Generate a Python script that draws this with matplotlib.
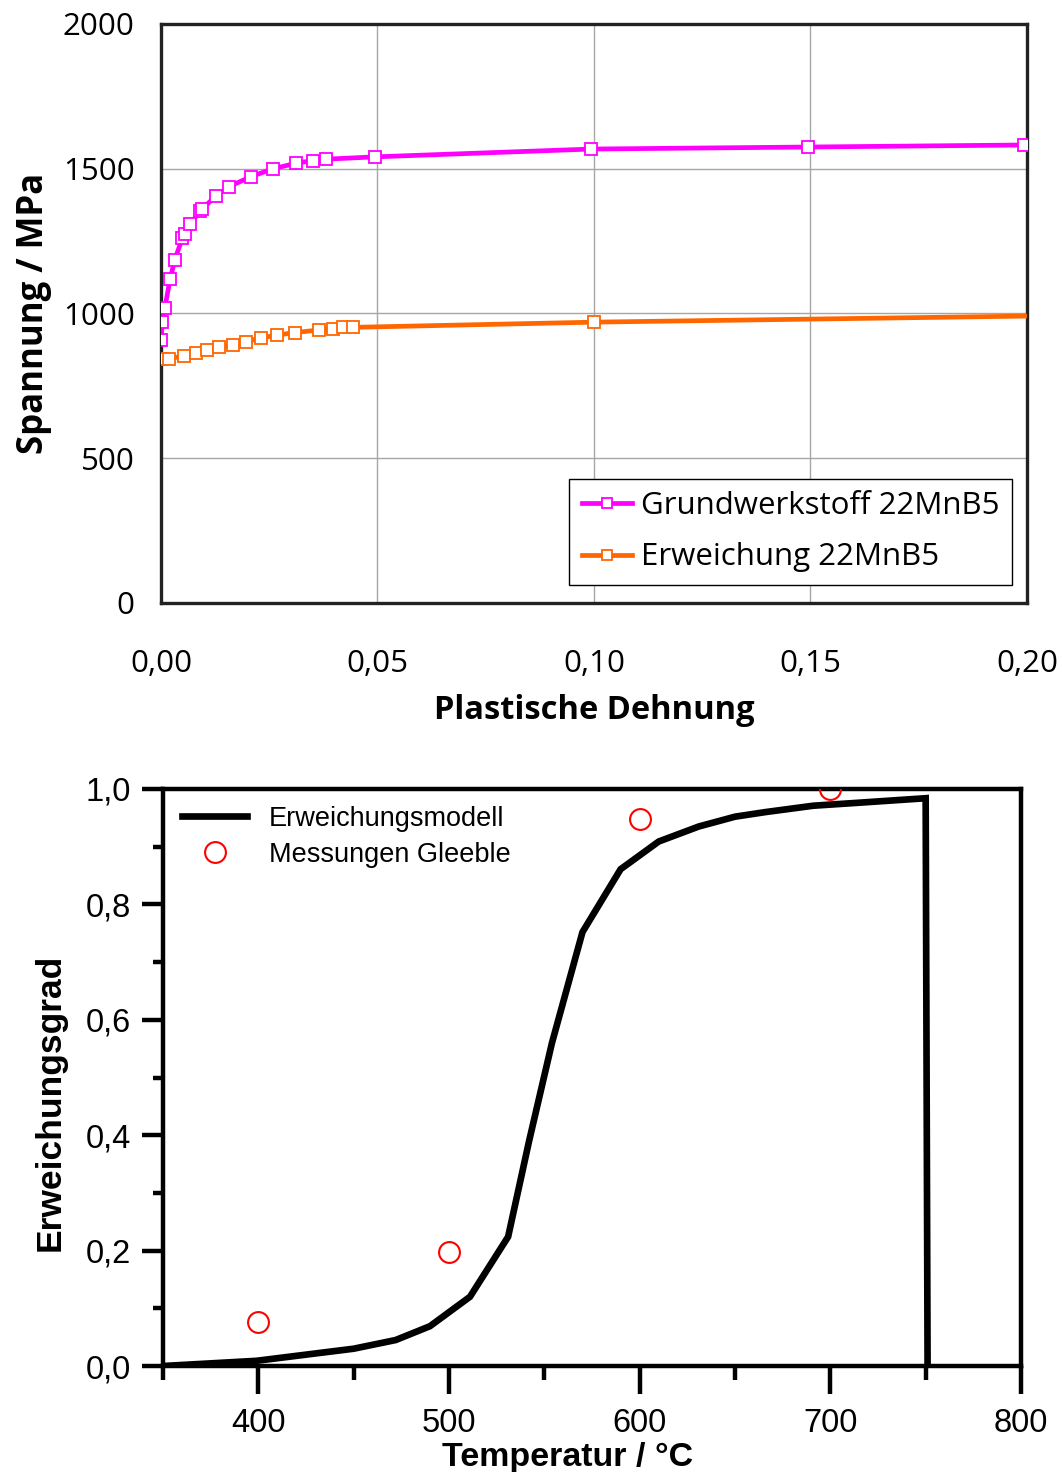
import matplotlib
matplotlib.use("Agg")
import matplotlib.pyplot as plt
from matplotlib.ticker import FuncFormatter, MultipleLocator

# Fliesskurven 22MnB5: plastische Dehnung / Spannung in MPa
dehnung_grund = [0.0, 0.0003, 0.0009, 0.0021, 0.0032, 0.0049, 0.0056, 0.0068, 0.0090,
                 0.0095, 0.0127, 0.0157, 0.0208, 0.0259, 0.0312, 0.0350, 0.0381,
                 0.0494, 0.0993, 0.1495, 0.1993]
spannung_grund = [908, 970, 1020, 1119, 1185, 1260, 1273, 1308, 1355,
                  1361, 1406, 1438, 1473, 1500, 1519, 1528, 1533,
                  1541, 1568, 1575, 1582]

dehnung_erw = [0.0, 0.0019, 0.0053, 0.0080, 0.0107, 0.0134, 0.0167, 0.0197, 0.0230,
               0.0267, 0.0309, 0.0366, 0.0398, 0.0420, 0.0443, 0.1000]
spannung_erw = [844, 844, 853, 863, 875, 884, 892, 903, 915,
                925, 934, 943, 947, 952, 952, 970]
# Verlaengerung der Erweichungskurve ohne Marker
dehnung_erw_ende = [0.1000, 0.2000]
spannung_erw_ende = [970, 991]

# Erweichungsmodell ueber der Temperatur
temp_modell = [350, 399, 450, 472, 490, 511, 531, 542, 554, 570, 590, 610, 631,
               650, 666, 691, 714, 750, 751]
grad_modell = [0.0, 0.009, 0.03, 0.045, 0.069, 0.12, 0.224, 0.39, 0.56, 0.752, 0.861,
               0.909, 0.935, 0.952, 0.96, 0.971, 0.976, 0.984, 0.0]

# Gleeble-Messungen
temp_mess = [400, 500, 600, 700]
grad_mess = [0.076, 0.198, 0.948, 1.0]

fig = plt.figure(figsize=(10.62, 14.72), dpi=100)

############################ Spannung ueber plastischer Dehnung ############################
sans = ["Open Sans", "DejaVu Sans"]
ax1 = fig.add_axes([0.1516, 0.5904, 0.8154, 0.3933])
ax1.plot(dehnung_erw_ende, spannung_erw_ende, color="#ff6600", lw=3.4, zorder=3)
ax1.plot(dehnung_grund, spannung_grund, color="#ff00ff", lw=3.4, marker="s", ms=8.5,
         mfc="white", mec="#ff00ff", mew=1.3, label="Grundwerkstoff 22MnB5", zorder=4)
ax1.plot(dehnung_erw, spannung_erw, color="#ff6600", lw=3.4, marker="s", ms=8.5,
         mfc="white", mec="#ff6600", mew=1.3, label="Erweichung 22MnB5", zorder=4)
ax1.set_xlim(0, 0.2)
ax1.set_ylim(0, 2000)
ax1.xaxis.set_major_locator(MultipleLocator(0.05))
ax1.yaxis.set_major_locator(MultipleLocator(500))
ax1.xaxis.set_major_formatter(FuncFormatter(lambda v, p: f"{v:.2f}".replace(".", ",")))
ax1.grid(True, color="#a6a6a6", lw=1)
ax1.set_axisbelow(True)
for s in ax1.spines.values():
    s.set_linewidth(2.4)
    s.set_color("#222222")
ax1.tick_params(axis="x", length=0, pad=33, labelsize=22.5)
ax1.tick_params(axis="y", length=0, pad=19, labelsize=22.5)
for lab in ax1.get_xticklabels() + ax1.get_yticklabels():
    lab.set_family(sans)
ax1.set_xlabel("Plastische Dehnung", family=sans, fontsize=23.5, fontweight="bold", labelpad=11)
ax1.set_ylabel("Spannung / MPa", family=sans, fontsize=25, fontweight="bold", labelpad=8)
leg1 = ax1.legend(loc="lower right", bbox_to_anchor=(0.9827, 0.031), borderaxespad=0,
                  prop={"family": sans, "size": 22.5}, fancybox=False, framealpha=1,
                  edgecolor="black", handlelength=1.6, handletextpad=0.3,
                  labelspacing=0.68, borderpad=0.4, markerscale=0.85)
leg1.get_frame().set_linewidth(1)

############################ Erweichungsgrad ueber Temperatur ############################
arial = ["Liberation Sans", "DejaVu Sans"]
ax2 = fig.add_axes([0.1535, 0.0720, 0.8079, 0.3920])
ax2.plot(temp_modell, grad_modell, color="black", lw=4.8, solid_joinstyle="miter",
         label="Erweichungsmodell", zorder=3)
ax2.plot(temp_mess, grad_mess, ls="none", marker="o", ms=15, mfc="none", mec="red",
         mew=1.5, label="Messungen Gleeble", zorder=4)
ax2.set_xlim(350, 800)
ax2.set_ylim(0, 1.0)
ax2.xaxis.set_major_locator(MultipleLocator(100))
ax2.xaxis.set_minor_locator(MultipleLocator(50))
ax2.yaxis.set_major_locator(MultipleLocator(0.2))
ax2.yaxis.set_minor_locator(MultipleLocator(0.1))
ax2.yaxis.set_major_formatter(FuncFormatter(lambda v, p: f"{v:.1f}".replace(".", ",")))
for s in ax2.spines.values():
    s.set_linewidth(3.2)
    s.set_color("black")
ax2.tick_params(axis="x", which="major", direction="out", length=20, width=3.2,
                pad=10, labelsize=23.5)
ax2.tick_params(axis="x", which="minor", direction="out", length=10, width=3.2)
ax2.tick_params(axis="y", which="major", direction="out", length=15, width=3.2,
                pad=8, labelsize=23.5)
ax2.tick_params(axis="y", which="minor", direction="out", length=7, width=3.2)
for lab in ax2.get_xticklabels() + ax2.get_yticklabels():
    lab.set_family(arial)
ax2.set_xlabel("Temperatur / °C", family=arial, fontsize=24.5, fontweight="bold")
ax2.set_ylabel("Erweichungsgrad", family=arial, fontsize=25.5, fontweight="bold")
ax2.xaxis.set_label_coords(0.471, -0.132)
ax2.yaxis.set_label_coords(-0.112, 0.4575)
ax2.legend(loc="upper left", bbox_to_anchor=(0.01, 0.99), borderaxespad=0, frameon=False,
           prop={"family": arial, "size": 19.5}, handlelength=2.4, handletextpad=0.8,
           labelspacing=0.38)

fig.savefig("out.png", dpi=100)
